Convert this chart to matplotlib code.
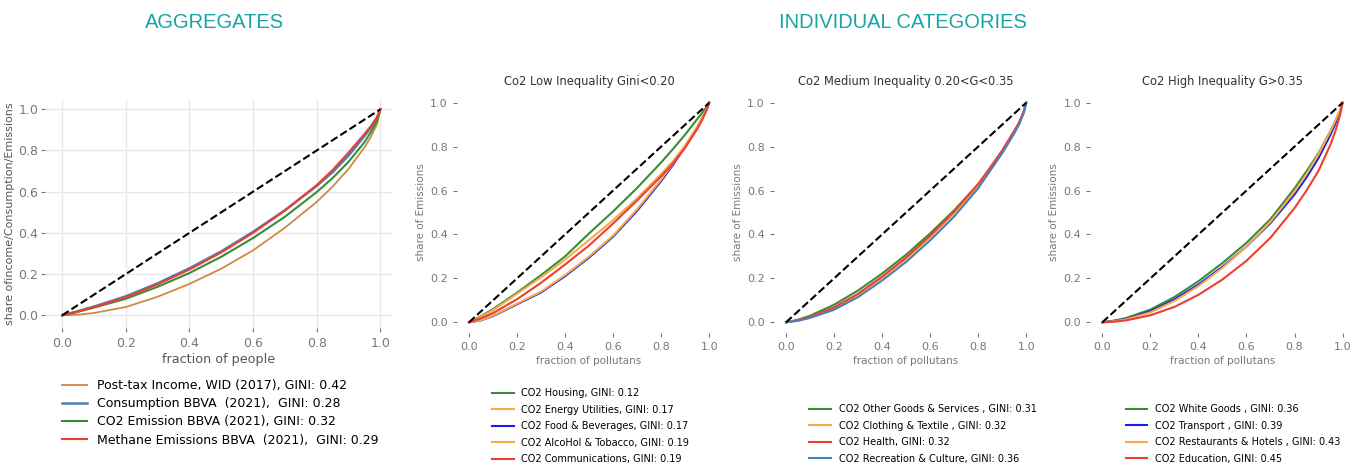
import matplotlib
matplotlib.use("Agg")
import matplotlib.pyplot as plt

# common x grid (fraction of people / pollutants) where the curves were read
x_pts = [0, 0.05, 0.1, 0.2, 0.3, 0.4, 0.5, 0.6, 0.7, 0.8, 0.85, 0.9, 0.95, 0.97, 0.99, 1.0]

# Aggregates
agg_labels = ["Post-tax Income, WID (2017), GINI: 0.42",
              "Consumption BBVA  (2021),  GINI: 0.28",
              "CO2 Emission BBVA (2021), GINI: 0.32",
              "Methane Emissions BBVA  (2021),  GINI: 0.29"]
income = [0, 0.003, 0.011, 0.04, 0.09, 0.152, 0.226, 0.315, 0.425, 0.55, 0.625, 0.71, 0.815, 0.865, 0.93, 1.0]
consumption = [0, 0.02, 0.042, 0.092, 0.155, 0.228, 0.31, 0.405, 0.51, 0.628, 0.695, 0.775, 0.87, 0.91, 0.96, 1.0]
co2_total = [0, 0.017, 0.037, 0.08, 0.138, 0.205, 0.284, 0.375, 0.478, 0.598, 0.666, 0.745, 0.84, 0.888, 0.945, 1.0]
methane = [0, 0.018, 0.04, 0.087, 0.15, 0.222, 0.305, 0.40, 0.508, 0.632, 0.705, 0.79, 0.88, 0.918, 0.963, 1.0]

# Low inequality
low_labels = ["CO2 Housing, GINI: 0.12", "CO2 Energy Utilities, GINI: 0.17",
              "CO2 Food & Beverages, GINI: 0.17", "CO2 AlcoHol & Tobacco, GINI: 0.19",
              "CO2 Communications, GINI: 0.19"]
housing = [0, 0.028, 0.06, 0.135, 0.215, 0.30, 0.405, 0.505, 0.612, 0.728, 0.79, 0.855, 0.925, 0.953, 0.983, 1.0]
energy = [0, 0.025, 0.055, 0.13, 0.205, 0.285, 0.375, 0.465, 0.565, 0.675, 0.735, 0.805, 0.89, 0.928, 0.972, 1.0]
food = [0, 0.009, 0.028, 0.082, 0.136, 0.21, 0.295, 0.39, 0.508, 0.643, 0.718, 0.80, 0.886, 0.927, 0.972, 1.0]
alcohol = [0, 0.01, 0.03, 0.085, 0.14, 0.215, 0.30, 0.395, 0.515, 0.65, 0.725, 0.805, 0.89, 0.93, 0.974, 1.0]
communications = [0, 0.018, 0.042, 0.105, 0.18, 0.263, 0.35, 0.45, 0.555, 0.665, 0.725, 0.795, 0.88, 0.92, 0.968, 1.0]

# Medium inequality
med_labels = ["CO2 Other Goods & Services , GINI: 0.31", "CO2 Clothing & Textile , GINI: 0.32",
              "CO2 Health, GINI: 0.32", "CO2 Recreation & Culture, GINI: 0.36"]
other_goods = [0, 0.012, 0.03, 0.08, 0.145, 0.222, 0.308, 0.405, 0.51, 0.628, 0.70, 0.775, 0.865, 0.905, 0.96, 1.0]
clothing = [0, 0.008, 0.023, 0.064, 0.125, 0.202, 0.288, 0.387, 0.497, 0.62, 0.693, 0.773, 0.865, 0.905, 0.958, 1.0]
health = [0, 0.009, 0.025, 0.068, 0.13, 0.208, 0.295, 0.395, 0.505, 0.63, 0.705, 0.783, 0.872, 0.91, 0.962, 1.0]
recreation = [0, 0.007, 0.02, 0.057, 0.115, 0.19, 0.275, 0.373, 0.482, 0.61, 0.69, 0.77, 0.86, 0.90, 0.953, 1.0]

# High inequality
high_labels = ["CO2 White Goods , GINI: 0.36", "CO2 Transport , GINI: 0.39",
               "CO2 Restaurants & Hotels , GINI: 0.43", "CO2 Education, GINI: 0.45"]
white_goods = [0, 0.008, 0.02, 0.058, 0.115, 0.187, 0.27, 0.362, 0.47, 0.61, 0.688, 0.77, 0.872, 0.917, 0.966, 1.0]
transport = [0, 0.006, 0.016, 0.05, 0.104, 0.172, 0.253, 0.345, 0.452, 0.582, 0.66, 0.748, 0.855, 0.905, 0.96, 1.0]
restaurants = [0, 0.005, 0.014, 0.045, 0.097, 0.165, 0.248, 0.345, 0.458, 0.595, 0.675, 0.765, 0.87, 0.918, 0.968, 1.0]
education = [0, 0.003, 0.009, 0.032, 0.07, 0.125, 0.195, 0.28, 0.385, 0.52, 0.6, 0.69, 0.81, 0.87, 0.945, 1.0]

GREEN = '#3b8c35'
ORANGE = '#f5ad48'
RED = '#ee3e33'
BLUE = '#1c1cf0'
STEEL = '#4a80b8'
BROWN = '#cc8a45'
TICK = '#777777'
TEAL = '#17a5a5'

plt.rcParams['font.family'] = ['DejaVu Sans']
fig = plt.figure(figsize=(13.6, 4.67), dpi=100)

fig.text(215 / 1360, 1 - 22 / 467, "AGGREGATES", color=TEAL, fontsize=14.5,
         family='Liberation Sans', ha='center', va='center')
fig.text(903 / 1360, 1 - 22 / 467, "INDIVIDUAL CATEGORIES", color=TEAL, fontsize=14.5,
         family='Liberation Sans', ha='center', va='center')

# aggregates panel
ax1 = fig.add_axes([0.0331, 0.2976, 0.2559, 0.4882])
ax1.plot(x_pts, income, color=BROWN, lw=1.3, label=agg_labels[0])
ax1.plot(x_pts, consumption, color=STEEL, lw=1.8, label=agg_labels[1])
ax1.plot(x_pts, co2_total, color=GREEN, lw=1.5, label=agg_labels[2])
ax1.plot(x_pts, methane, color=RED, lw=1.5, label=agg_labels[3])
ax1.plot([0, 1], [0, 1], color='black', ls='--', lw=1.5)
ax1.set_xlim(-0.054, 1.04)
ax1.set_ylim(-0.062, 1.045)
ax1.set_xticks([0, 0.2, 0.4, 0.6, 0.8, 1.0])
ax1.set_yticks([0, 0.2, 0.4, 0.6, 0.8, 1.0])
ax1.grid(True, color='#e8e8e8', lw=1)
ax1.set_axisbelow(True)
for s in ax1.spines.values():
    s.set_visible(False)
ax1.tick_params(colors=TICK, labelsize=9, length=3)
ax1.tick_params(axis='y', pad=2)
ax1.set_xlabel("fraction of people", color='#555555', fontsize=9.2, labelpad=2)
ax1.set_ylabel("share ofincome/Consumption/Emissions", color='#555555', fontsize=8, labelpad=2)
ax1.legend(loc='upper left', bbox_to_anchor=(62 / 1360, 1 - 379 / 467),
           bbox_transform=fig.transFigure, frameon=False, fontsize=9,
           labelspacing=0.42, borderpad=0, borderaxespad=0, handlelength=2.0, handletextpad=0.8)


def small_panel(left, title, curves, labels, colors, legend_top):
    ax = fig.add_axes([left, 0.2863, 0.1943, 0.5173])
    for y, lab, c in zip(curves, labels, colors):
        ax.plot(x_pts, y, color=c, lw=1.5, label=lab)
    ax.plot([0, 1], [0, 1], color='black', ls='--', lw=1.5)
    ax.set_xlim(-0.05, 1.05)
    ax.set_ylim(-0.05, 1.05)
    ax.set_xticks([0, 0.2, 0.4, 0.6, 0.8, 1.0])
    ax.set_yticks([0, 0.2, 0.4, 0.6, 0.8, 1.0])
    for s in ax.spines.values():
        s.set_visible(False)
    ax.tick_params(colors=TICK, labelsize=8, length=3)
    ax.set_title(title, fontsize=8.3, color='#333333', pad=5)
    ax.set_xlabel("fraction of pollutans", color=TICK, fontsize=7.5, labelpad=3)
    ax.set_ylabel("share of Emissions", color=TICK, fontsize=7.5, labelpad=3)
    ax.legend(loc='upper left', bbox_to_anchor=(left + 0.026, 1 - legend_top / 467),
              bbox_transform=fig.transFigure, frameon=False, fontsize=7,
              labelspacing=0.68, borderpad=0, borderaxespad=0, handlelength=2.2, handletextpad=0.8)
    return ax


small_panel(0.336, "Co2 Low Inequality Gini<0.20",
            [housing, energy, food, alcohol, communications], low_labels,
            [GREEN, ORANGE, BLUE, ORANGE, RED], 388)
small_panel(0.5691, "Co2 Medium Inequality 0.20<G<0.35",
            [other_goods, clothing, health, recreation], med_labels,
            [GREEN, ORANGE, RED, STEEL], 404)
small_panel(0.8017, "Co2 High Inequality G>0.35",
            [white_goods, transport, restaurants, education], high_labels,
            [GREEN, BLUE, ORANGE, RED], 404)

fig.savefig("out.png", dpi=100)
